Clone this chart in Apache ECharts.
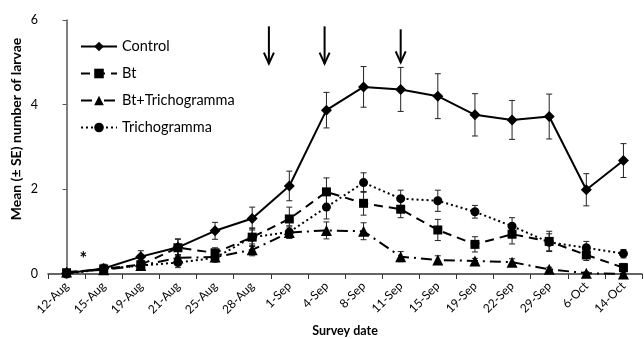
<!DOCTYPE html>
<html>
<head>
<meta charset="utf-8">
<script src="https://cdn.jsdelivr.net/npm/echarts@6/dist/echarts.min.js"></script>
<style>
html,body{margin:0;padding:0;background:#fff;}
#chart{width:644px;height:339px;}
</style>
</head>
<body>
<div id="chart"></div>
<script>
const categories = ['12-Aug','15-Aug','19-Aug','21-Aug','25-Aug','28-Aug','1-Sep','4-Sep','8-Sep','11-Sep','15-Sep','19-Sep','22-Sep','29-Sep','6-Oct','14-Oct'];
const yTicks = [0, 2, 4, 6];

const control   = [0.02, 0.13, 0.41, 0.63, 1.02, 1.31, 2.08, 3.87, 4.42, 4.36, 4.20, 3.76, 3.64, 3.72, 1.99, 2.68];
const controlSE = [0.04, 0.10, 0.14, 0.20, 0.20, 0.27, 0.35, 0.42, 0.48, 0.52, 0.53, 0.50, 0.46, 0.53, 0.38, 0.40];

const bt   = [0.03, 0.12, 0.22, 0.62, 0.50, 0.87, 1.30, 1.94, 1.67, 1.53, 1.04, 0.70, 0.94, 0.77, 0.45, 0.15];
const btSE = [0.03, 0.08, 0.10, 0.20, 0.12, 0.22, 0.28, 0.33, 0.28, 0.20, 0.25, 0.18, 0.23, 0.24, 0.13, 0.10];

const btTricho   = [0.05, 0.10, 0.20, 0.38, 0.40, 0.57, 0.98, 1.03, 1.01, 0.41, 0.33, 0.31, 0.28, 0.11, 0.02, 0.00];
const btTrichoSE = [0.03, 0.05, 0.07, 0.08, 0.08, 0.14, 0.13, 0.20, 0.20, 0.12, 0.10, 0.06, 0.08, 0.05, 0.03, 0.02];

const tricho   = [0.00, 0.12, 0.20, 0.27, 0.38, 0.87, 0.99, 1.58, 2.16, 1.78, 1.73, 1.47, 1.13, 0.75, 0.62, 0.48];
const trichoSE = [0.03, 0.08, 0.08, 0.12, 0.10, 0.20, 0.15, 0.28, 0.23, 0.20, 0.25, 0.15, 0.20, 0.20, 0.15, 0.10];

// annotation arrows: [position in category units, top value, tip value]
const arrows = [[5.45, 5.85, 4.97], [6.95, 5.85, 4.97], [9.0, 5.78, 5.00]];
// asterisk: [position in category units, value]
const asterisks = [[0.45, 0.34]];

const FONT = 'Lato';

function errData(vals, se) {
  return vals.map((v, i) => [i, Math.max(0, v - se[i]), v + se[i]]);
}

function errRender(params, api) {
  const x = api.value(0);
  const pHi = api.coord([x, api.value(2)]);
  const pLo = api.coord([x, api.value(1)]);
  const cw = 3;
  const st = {stroke: '#222', lineWidth: 1};
  return {type: 'group', children: [
    {type: 'line', shape: {x1: pHi[0], y1: pHi[1], x2: pLo[0], y2: pLo[1]}, style: st},
    {type: 'line', shape: {x1: pHi[0] - cw, y1: pHi[1], x2: pHi[0] + cw, y2: pHi[1]}, style: st},
    {type: 'line', shape: {x1: pLo[0] - cw, y1: pLo[1], x2: pLo[0] + cw, y2: pLo[1]}, style: st}
  ]};
}

function errSeries(vals, se) {
  return {
    type: 'custom', renderItem: errRender, data: errData(vals, se),
    z: 1, silent: true, legendHoverLink: false,
    encode: {x: 0, y: [1, 2]}
  };
}

const chart = echarts.init(document.getElementById('chart'), null, {renderer: 'canvas'});

const lineBase = {
  type: 'line', color: '#000', z: 3,
  itemStyle: {color: '#000'},
  emphasis: {disabled: true},
  animation: false
};

chart.setOption({
  animation: false,
  backgroundColor: '#fff',
  textStyle: {fontFamily: FONT},
  grid: {left: 48, right: 2, top: 20, bottom: 65, containLabel: false, outerBoundsMode: 'none'},
  legend: {
    orient: 'vertical', left: 75, top: 34,
    itemWidth: 36, itemHeight: 12, itemGap: 12,
    textStyle: {fontFamily: FONT, fontSize: 14.5, color: '#000'},
    data: ['Control', 'Bt', 'Bt+Trichogramma', 'Trichogramma']
  },
  xAxis: [{
    type: 'category', data: categories, boundaryGap: true,
    name: 'Survey date', nameLocation: 'middle', nameGap: 50,
    nameTextStyle: {fontFamily: FONT, fontSize: 12.5, fontWeight: 'bold', color: '#000'},
    axisLine: {lineStyle: {color: '#333', width: 1.5}},
    axisTick: {show: true, alignWithLabel: false, length: 5, lineStyle: {color: '#333'}},
    axisLabel: {rotate: 45, fontSize: 12, color: '#000', margin: 10, interval: 0, fontFamily: FONT},
    splitLine: {show: false}
  }, {
    type: 'value', show: false, min: -0.5, max: categories.length - 0.5,
    position: 'bottom'
  }],
  yAxis: {
    type: 'value', min: yTicks[0], max: yTicks[yTicks.length - 1], interval: yTicks[1] - yTicks[0],
    axisLine: {show: true, lineStyle: {color: '#555', width: 1.5}},
    axisTick: {show: true, length: 4, lineStyle: {color: '#555'}},
    axisLabel: {fontSize: 12.5, color: '#000', margin: 10, fontFamily: FONT},
    splitLine: {show: false}
  },
  graphic: [{
    type: 'text', x: 16, y: 129, rotation: Math.PI / 2,
    style: {text: 'Mean (± SE) number of larvae', font: 'bold 14px Lato', fill: '#000', align: 'center', verticalAlign: 'middle'}
  }],
  series: [
    errSeries(control, controlSE),
    errSeries(bt, btSE),
    errSeries(btTricho, btTrichoSE),
    errSeries(tricho, trichoSE),
    Object.assign({}, lineBase, {
      name: 'Control', data: control, symbol: 'diamond', symbolSize: 11,
      lineStyle: {color: '#000', width: 2, type: 'solid'}
    }),
    Object.assign({}, lineBase, {
      name: 'Bt', data: bt, symbol: 'rect', symbolSize: 9,
      lineStyle: {color: '#000', width: 2, type: [9, 6]}
    }),
    Object.assign({}, lineBase, {
      name: 'Bt+Trichogramma', data: btTricho, symbol: 'triangle', symbolSize: 11,
      lineStyle: {color: '#000', width: 2, type: [11, 5, 2, 5]}
    }),
    Object.assign({}, lineBase, {
      name: 'Trichogramma', data: tricho, symbol: 'circle', symbolSize: 9,
      lineStyle: {color: '#000', width: 2, type: [2, 3]}
    }),
    {
      type: 'custom', silent: true, z: 4, data: arrows, xAxisIndex: 1,
      encode: {x: 0, y: [1, 2]},
      renderItem: function (params, api) {
        const x = api.value(0);
        const pTop = api.coord([x, api.value(1)]);
        const pTip = api.coord([x, api.value(2)]);
        const st = {stroke: '#000', lineWidth: 2};
        return {type: 'group', children: [
          {type: 'line', shape: {x1: pTop[0], y1: pTop[1], x2: pTip[0], y2: pTip[1]}, style: st},
          {type: 'polyline', shape: {points: [[pTip[0] - 5, pTip[1] - 11], [pTip[0], pTip[1]], [pTip[0] + 5, pTip[1] - 11]]}, style: {stroke: '#000', lineWidth: 2, fill: null}}
        ]};
      }
    },
    {
      type: 'custom', silent: true, z: 4, data: asterisks, xAxisIndex: 1,
      encode: {x: 0, y: 1},
      renderItem: function (params, api) {
        const p = api.coord([api.value(0), api.value(1)]);
        return {type: 'text', x: p[0], y: p[1], style: {text: '*', font: 'bold 18px Lato', fill: '#000', align: 'center', verticalAlign: 'middle'}};
      }
    }
  ]
});
</script>
</body>
</html>
